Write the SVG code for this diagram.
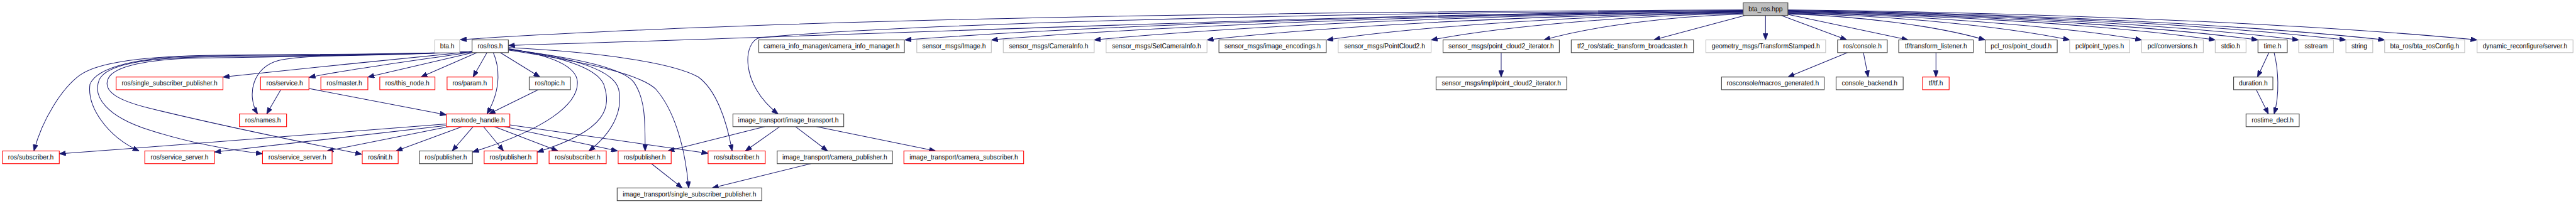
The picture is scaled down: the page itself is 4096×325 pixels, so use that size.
<svg xmlns="http://www.w3.org/2000/svg" width="4096" height="325" viewBox="0 0 4096 325">
<style>
.n rect{fill:#ffffff;stroke-width:1.4}
.blk rect{stroke:#404040}
.red rect{stroke:#ff0000}
.gry rect{stroke:#bfbfbf}
.root rect{fill:#bfbfbf;stroke:#404040}
.n text{font-family:"Liberation Sans",Arial,Helvetica,sans-serif;font-size:13px;fill:#000000;text-anchor:middle}
.e path{fill:none;stroke:#191970;stroke-width:1.3;marker-end:url(#ah)}
</style>
<defs>
<marker id="ah" viewBox="0 0 13 10" refX="13" refY="5" markerWidth="13" markerHeight="10" orient="auto" markerUnits="userSpaceOnUse">
<path d="M0,0 L13,5 L0,10 z" fill="#191970" stroke="#191970" stroke-width="1"/>
</marker>
</defs>
<rect x="0" y="0" width="4096" height="325" fill="#ffffff"/>
<g transform="scale(0.79012)">
<g id="edges" class="e">
<path d="M3508,20 C2600,24 1600,36 926,80"/>
<path d="M3508,21 C2700,28 1700,72 1023,91.7"/>
<path d="M3508,22 C2600,25 1800,50 1530,76 C1495,82 1488,170 1566,229.8"/>
<path d="M3508,23 C2917.5,27.6 2243,48.7 1821,80.5"/>
<path d="M3508,23.5 C2978.5,28 2373.3,48.9 1995,80.5"/>
<path d="M3508,24 C3051,28.5 2528.5,49.2 2202,80.5"/>
<path d="M3508,25 C3130.4,29.4 2698.8,49.8 2429,80.5"/>
<path d="M3508,26 C3214.7,30.3 2879.5,50.3 2670,80.5"/>
<path d="M3508,27 C3288.2,31.2 3037,50.9 2880,80.5"/>
<path d="M3508,28.5 C3367.7,32.6 3207.3,51.7 3107,80.5"/>
<path d="M3511,31.3 L3328,80.5"/>
<path d="M3553,31.3 L3553,80.5"/>
<path d="M3585,31.3 L3716.7,80.5"/>
<path d="M3598,29 L3840,80.5"/>
<path d="M3598,28 C3737,32.2 3895.8,51.4 3995,80.5"/>
<path d="M3598,27 C3796.5,31.2 4023.3,50.9 4165,80.5"/>
<path d="M3598,26 C3847.2,30.3 4132,50.3 4310,80.5"/>
<path d="M3598,25 C3899,29.4 4243,49.8 4458,80.5"/>
<path d="M3598,24 C3929.1,28.5 4307.5,49.2 4544,80.5"/>
<path d="M3598,23 C3957.8,27.6 4369,48.7 4626,80.5"/>
<path d="M3598,22 C3991,26.6 4440.3,48.1 4721,80.5"/>
<path d="M3598,21 C4018.4,25.7 4498.8,47.6 4799,80.5"/>
<path d="M3598,20 C4083.5,24.8 4638.3,47 4985,80.5"/>
<path d="M950,104 C800,118 600,140 448.7,155.3"/>
<path d="M950,105 C850,120 700,140 621.7,156"/>
<path d="M952,106 L740.3,155.3"/>
<path d="M960,106 L847,155.3"/>
<path d="M980,106 L952,155.3"/>
<path d="M1006.7,106 L1086.7,155.3"/>
<path d="M992.7,106 C1003,130 1012,175 980,229.8"/>
<path d="M950,104 C800,112 620,108 560,122 C510,135 495,190 518.3,229.8"/>
<path d="M950,104 C750,112 560,108 400,112 C260,116 190,130 160,152 C125,178 85,240 68.3,304.4"/>
<path d="M950,104 C750,112 560,110 400,113 C280,115 195,135 181,170 C175,215 215,275 280,304.4"/>
<path d="M950,104 C750,113 560,112 400,115 C290,118 215,130 200,160 C185,195 215,235 300,262 C380,288 460,302 528.3,310"/>
<path d="M950,104 C750,114 560,114 400,117 C300,119 230,133 218,158 C205,185 240,203 300,218 C450,255 600,285 728,311"/>
<path d="M1023,98 C1100,110 1160,130 1162,165 C1164,210 1100,260 950.7,306.7"/>
<path d="M1023,99 C1120,112 1200,135 1215,170 C1230,215 1225,262 1081,306.7"/>
<path d="M1023,99 C1150,115 1235,140 1245,180 C1255,225 1230,270 1185,304.4"/>
<path d="M1023,100 C1150,115 1250,135 1275,165 C1300,200 1298,250 1298.3,304.4"/>
<path d="M1023,101 C1180,125 1290,150 1320,180 C1355,220 1378,290 1386,379"/>
<path d="M1023,96 C1200,105 1350,125 1405,155 C1440,180 1462,240 1473.3,304.4"/>
<path d="M898.3,250 C700,265 400,290 119.3,310"/>
<path d="M898.3,253 L431.5,306.7"/>
<path d="M903,255.4 L658,304.4"/>
<path d="M930,255.4 L797,304.4"/>
<path d="M952,255.4 L910,304.4"/>
<path d="M973,255.4 L1013.3,304.4"/>
<path d="M995,255.4 L1123,304.4"/>
<path d="M1015,255.4 L1243,304.4"/>
<path d="M1026,252 L1425,309"/>
<path d="M565,180.9 L536.7,229.8"/>
<path d="M621.7,178.5 L898.3,231.5"/>
<path d="M1083,180.9 L984,229.8"/>
<path d="M1539,255.4 L1344,304.4"/>
<path d="M1569,255.4 L1500,304.4"/>
<path d="M1601,255.4 L1665.5,304.4"/>
<path d="M1643,255.4 L1883,304.4"/>
<path d="M1311,330 L1373,379"/>
<path d="M1632,330 L1433,379"/>
<path d="M3021,106.1 L3021,155.3"/>
<path d="M3718,106.1 L3598,155.3"/>
<path d="M3750,106.1 L3759.6,155.3"/>
<path d="M3896,106.1 L3896,155.3"/>
<path d="M4566,106.1 L4543,155.3"/>
<path d="M4576.5,106.1 C4585,140 4588,190 4576.5,229.8"/>
<path d="M4540.6,180.9 L4565,229.8"/>
</g>
<g id="n0" class="n root"><rect x="3508" y="5.7" width="90" height="25.6"/><text x="3553" y="22.7">bta_ros.hpp</text></g>
<g id="n1" class="n gry"><rect x="875" y="80.5" width="50" height="25.6"/><text x="900" y="97.5">bta.h</text></g>
<g id="n2" class="n blk"><rect x="950" y="80.5" width="73" height="25.6"/><text x="986.5" y="97.5">ros/ros.h</text></g>
<g id="n3" class="n blk"><rect x="1527" y="80.5" width="293" height="25.6"/><text x="1673.5" y="97.5">camera_info_manager/camera_info_manager.h</text></g>
<g id="n4" class="n gry"><rect x="1845" y="80.5" width="150" height="25.6"/><text x="1920" y="97.5">sensor_msgs/Image.h</text></g>
<g id="n5" class="n gry"><rect x="2019" y="80.5" width="183" height="25.6"/><text x="2110.5" y="97.5">sensor_msgs/CameraInfo.h</text></g>
<g id="n6" class="n gry"><rect x="2226" y="80.5" width="203" height="25.6"/><text x="2327.5" y="97.5">sensor_msgs/SetCameraInfo.h</text></g>
<g id="n7" class="n blk"><rect x="2453" y="80.5" width="216" height="25.6"/><text x="2561" y="97.5">sensor_msgs/image_encodings.h</text></g>
<g id="n8" class="n gry"><rect x="2693" y="80.5" width="187" height="25.6"/><text x="2786.5" y="97.5">sensor_msgs/PointCloud2.h</text></g>
<g id="n9" class="n blk"><rect x="2904" y="80.5" width="234" height="25.6"/><text x="3021" y="97.5">sensor_msgs/point_cloud2_iterator.h</text></g>
<g id="n10" class="n blk"><rect x="3162" y="80.5" width="246" height="25.6"/><text x="3285" y="97.5">tf2_ros/static_transform_broadcaster.h</text></g>
<g id="n11" class="n gry"><rect x="3433" y="80.5" width="241" height="25.6"/><text x="3553.5" y="97.5">geometry_msgs/TransformStamped.h</text></g>
<g id="n12" class="n blk"><rect x="3698" y="80.5" width="100" height="25.6"/><text x="3748" y="97.5">ros/console.h</text></g>
<g id="n13" class="n blk"><rect x="3821" y="80.5" width="150" height="25.6"/><text x="3896" y="97.5">tf/transform_listener.h</text></g>
<g id="n14" class="n blk"><rect x="3995" y="80.5" width="145" height="25.6"/><text x="4067.5" y="97.5">pcl_ros/point_cloud.h</text></g>
<g id="n15" class="n gry"><rect x="4165" y="80.5" width="121" height="25.6"/><text x="4225.5" y="97.5">pcl/point_types.h</text></g>
<g id="n16" class="n gry"><rect x="4310" y="80.5" width="124" height="25.6"/><text x="4372" y="97.5">pcl/conversions.h</text></g>
<g id="n17" class="n gry"><rect x="4458" y="80.5" width="62" height="25.6"/><text x="4489" y="97.5">stdio.h</text></g>
<g id="n18" class="n blk"><rect x="4544" y="80.5" width="59" height="25.6"/><text x="4573.5" y="97.5">time.h</text></g>
<g id="n19" class="n gry"><rect x="4626" y="80.5" width="70" height="25.6"/><text x="4661" y="97.5">sstream</text></g>
<g id="n20" class="n gry"><rect x="4721" y="80.5" width="54" height="25.6"/><text x="4748" y="97.5">string</text></g>
<g id="n21" class="n gry"><rect x="4799" y="80.5" width="161" height="25.6"/><text x="4879.5" y="97.5">bta_ros/bta_rosConfig.h</text></g>
<g id="n22" class="n gry"><rect x="4985" y="80.5" width="193" height="25.6"/><text x="5081.5" y="97.5">dynamic_reconfigure/server.h</text></g>
<g id="n23" class="n red"><rect x="233.7" y="155.3" width="215" height="25.6"/><text x="341.2" y="172.3">ros/single_subscriber_publisher.h</text></g>
<g id="n24" class="n red"><rect x="524.3" y="155.3" width="97.4" height="25.6"/><text x="573" y="172.3">ros/service.h</text></g>
<g id="n25" class="n red"><rect x="645.7" y="155.3" width="94.6" height="25.6"/><text x="693" y="172.3">ros/master.h</text></g>
<g id="n26" class="n red"><rect x="764.3" y="155.3" width="111" height="25.6"/><text x="819.8" y="172.3">ros/this_node.h</text></g>
<g id="n27" class="n red"><rect x="899.7" y="155.3" width="91" height="25.6"/><text x="945.2" y="172.3">ros/param.h</text></g>
<g id="n28" class="n blk"><rect x="1065" y="155.3" width="83" height="25.6"/><text x="1106.5" y="172.3">ros/topic.h</text></g>
<g id="n29" class="n blk"><rect x="2890" y="155.3" width="263" height="25.6"/><text x="3021.5" y="172.3">sensor_msgs/impl/point_cloud2_iterator.h</text></g>
<g id="n30" class="n blk"><rect x="3464.5" y="155.3" width="206.5" height="25.6"/><text x="3567.75" y="172.3">rosconsole/macros_generated.h</text></g>
<g id="n31" class="n blk"><rect x="3695" y="155.3" width="135" height="25.6"/><text x="3762.5" y="172.3">console_backend.h</text></g>
<g id="n32" class="n red"><rect x="3869" y="155.3" width="53.5" height="25.6"/><text x="3895.75" y="172.3">tf/tf.h</text></g>
<g id="n33" class="n blk"><rect x="4495" y="155.3" width="79" height="25.6"/><text x="4534.5" y="172.3">duration.h</text></g>
<g id="n34" class="n red"><rect x="481.7" y="229.8" width="95" height="25.6"/><text x="529.2" y="246.8">ros/names.h</text></g>
<g id="n35" class="n red"><rect x="898.3" y="229.8" width="127.7" height="25.6"/><text x="962.15" y="246.8">ros/node_handle.h</text></g>
<g id="n36" class="n blk"><rect x="1475" y="229.8" width="223" height="25.6"/><text x="1586.5" y="246.8">image_transport/image_transport.h</text></g>
<g id="n37" class="n blk"><rect x="4520" y="229.8" width="107" height="25.6"/><text x="4573.5" y="246.8">rostime_decl.h</text></g>
<g id="n38" class="n red"><rect x="5" y="304.4" width="114.3" height="25.6"/><text x="62.15" y="321.4">ros/subscriber.h</text></g>
<g id="n39" class="n red"><rect x="291.4" y="304.4" width="140" height="25.6"/><text x="361.4" y="321.4">ros/service_server.h</text></g>
<g id="n40" class="n red"><rect x="528.3" y="304.4" width="140" height="25.6"/><text x="598.3" y="321.4">ros/service_server.h</text></g>
<g id="n41" class="n red"><rect x="729" y="304.4" width="72.3" height="25.6"/><text x="765.15" y="321.4">ros/init.h</text></g>
<g id="n42" class="n blk"><rect x="844" y="304.4" width="106.7" height="25.6"/><text x="897.35" y="321.4">ros/publisher.h</text></g>
<g id="n43" class="n red"><rect x="974.3" y="304.4" width="106.7" height="25.6"/><text x="1027.65" y="321.4">ros/publisher.h</text></g>
<g id="n44" class="n red"><rect x="1105" y="304.4" width="115" height="25.6"/><text x="1162.5" y="321.4">ros/subscriber.h</text></g>
<g id="n45" class="n red"><rect x="1244" y="304.4" width="106.7" height="25.6"/><text x="1297.35" y="321.4">ros/publisher.h</text></g>
<g id="n46" class="n red"><rect x="1425" y="304.4" width="115" height="25.6"/><text x="1482.5" y="321.4">ros/subscriber.h</text></g>
<g id="n47" class="n blk"><rect x="1564" y="304.4" width="232" height="25.6"/><text x="1680" y="321.4">image_transport/camera_publisher.h</text></g>
<g id="n48" class="n red"><rect x="1819" y="304.4" width="241" height="25.6"/><text x="1939.5" y="321.4">image_transport/camera_subscriber.h</text></g>
<g id="n49" class="n blk"><rect x="1242" y="379" width="291" height="25.6"/><text x="1387.5" y="396">image_transport/single_subscriber_publisher.h</text></g>
</g>
</svg>
